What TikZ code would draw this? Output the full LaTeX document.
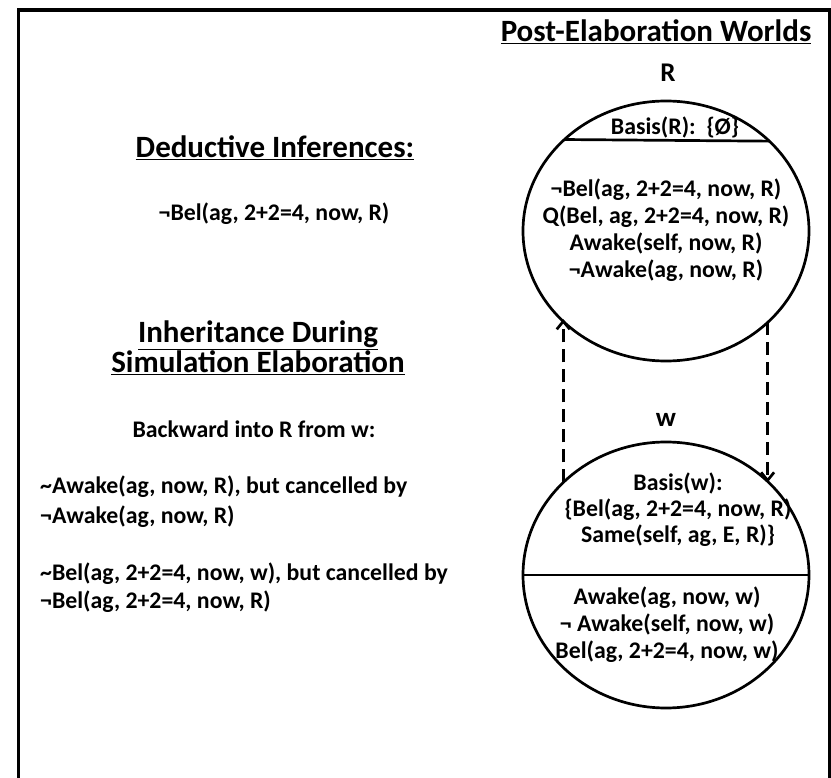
\documentclass[tikz,border=0pt]{standalone}
\usepackage{fontspec}
\setmainfont{Carlito}
\usetikzlibrary{shapes, arrows.meta, positioning}

\begin{document}
\begin{tikzpicture}[x=1pt, y=-1pt, >={Straight Barb[length=8pt,width=13pt]},
  world/.style={draw, ellipse, line width=2.7pt, minimum width=286pt, inner sep=0pt, outer sep=0pt},
  fact/.style={font={\fontsize{23.8}{27}\selectfont\bfseries}, inner sep=0pt, align=center},
  heading/.style={font={\fontsize{31}{31}\selectfont\bfseries}, inner sep=0pt},
  flow/.style={line width=2.7pt, dash pattern=on 13pt off 7pt}]
\useasboundingbox (0,0) rectangle (831,778);
\draw[line width=3.3pt] (18.5,778) -- (18.5,10) -- (829.5,10) -- (829.5,778);

\node[heading, anchor=base] (worlds) at (656,42) {\underline{Post-Elaboration Worlds}};
\node[heading, anchor=base, font={\fontsize{27}{27}\selectfont\bfseries}] (nameR) at (668,82) {R};
\node[world, minimum height=260pt] (R) at (666,231) {};
\draw[line width=2.7pt] (R.138.3) -- (R.41.7);
\node[fact, anchor=base] (basisR) at (675,135) {Basis(R):\ \ \{Ø\}};
\node[fact] (factsR) at (666,230) {¬Bel(ag, 2+2=4, now, R)\\Q(Bel, ag, 2+2=4, now, R)\\Awake(self, now, R)\\¬Awake(ag, now, R)};

\node[heading, anchor=base, font={\fontsize{27}{27}\selectfont\bfseries}] (namew) at (666,426) {w};
\node[world, minimum height=266pt] (w) at (666,575) {};
\draw[line width=2.7pt] (w.west) -- (w.east);
\node[fact, font={\fontsize{23.8}{26}\selectfont\bfseries}] (basisw) at (678,510) {Basis(w):\\\{Bel(ag, 2+2=4, now, R)\\Same(self, ag, E, R)\}};
\node[fact] (factsw) at (667,625) {Awake(ag, now, w)\\¬ Awake(self, now, w)\\Bel(ag, 2+2=4, now, w)};

\draw[flow, ->] (w.138.7) -- (w.138.7 |- R.220.6);
\draw[flow, ->] (R.318.2) -- (R.318.2 |- w.42.4);

\node[heading, anchor=base] (deduce) at (275,158) {\underline{Deductive Inferences:}};
\node[fact, anchor=base] (deduceBel) at (274,221) {¬Bel(ag, 2+2=4, now, R)};
\node[heading, anchor=base] (inheritA) at (258,343) {\underline{Inheritance During}};
\node[heading, anchor=base] (inheritB) at (258,373) {\underline{Simulation Elaboration}};
\node[fact, anchor=base] (backward) at (254,438) {Backward into R from w:};
\node[fact, anchor=base west] (awakeDef) at (40,493) {\textasciitilde Awake(ag, now, R), but cancelled by};
\node[fact, anchor=base west] (awakeNeg) at (40,523) {¬Awake(ag, now, R)};
\node[fact, anchor=base west] (belDef) at (40,580) {\textasciitilde Bel(ag, 2+2=4, now, w), but cancelled by};
\node[fact, anchor=base west] (belNeg) at (40,608) {¬Bel(ag, 2+2=4, now, R)};
\end{tikzpicture}
\end{document}
